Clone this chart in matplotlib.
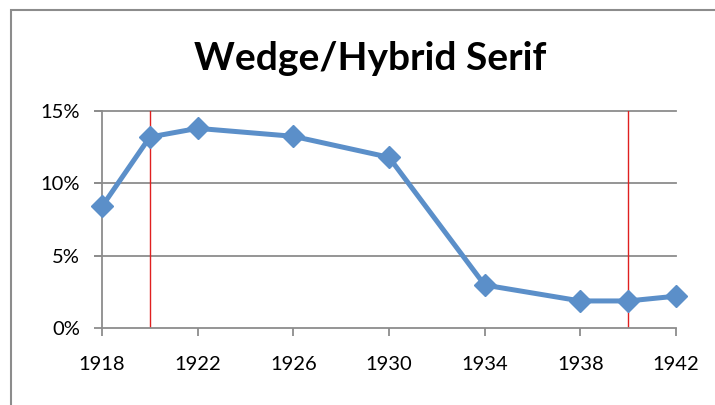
import matplotlib.pyplot as plt
from matplotlib.patches import Rectangle
from matplotlib.ticker import FuncFormatter

years = [1918, 1920, 1922, 1926, 1930, 1934, 1938, 1940, 1942]
share = [8.4, 13.2, 13.8, 13.25, 11.8, 2.97, 1.87, 1.87, 2.2]
marker_years = [1920, 1940]
tick_years = [1918, 1922, 1926, 1930, 1934, 1938, 1942]

plt.rcParams['font.family'] = ['Lato', 'DejaVu Sans']

fig = plt.figure(figsize=(7.15, 4.05), dpi=100)
# chart area border (Excel style)
fig.patches.append(Rectangle((11 / 715, -0.1), 1.2, 1 - 10 / 405 + 0.1, transform=fig.transFigure,
                             fill=False, edgecolor='#8c8c8c', linewidth=1.5))

ax = fig.add_axes([102 / 715, 1 - 328 / 405, 574 / 715, (328 - 111) / 405])
ax.set_xlim(1918, 1942)
ax.set_ylim(0, 15)

for y in [5, 10, 15]:
    ax.plot([1917.7, 1942], [y, y], color='#8c8c8c', linewidth=1.3, clip_on=False, zorder=1)

for x in marker_years:
    ax.axvline(x, color='#e02020', linewidth=1.0, zorder=2)

ax.plot(years, share, color='#5b8fc9', linewidth=3.6, marker='D', markersize=11,
        markerfacecolor='#5b8fc9', markeredgecolor='#5b8fc9', zorder=3, clip_on=False)

for s in ['top', 'right']:
    ax.spines[s].set_visible(False)
ax.spines['left'].set_color('#8c8c8c')
ax.spines['bottom'].set_color('#8c8c8c')
ax.spines['left'].set_linewidth(1.3)
ax.spines['bottom'].set_linewidth(1.3)

ax.set_xticks(tick_years)
ax.set_yticks([0, 5, 10, 15])
ax.yaxis.set_major_formatter(FuncFormatter(lambda v, p: f'{v:.0f}%'))
ax.tick_params(axis='x', length=6, width=1.3, color='#8c8c8c', labelsize=14.5, pad=14)
ax.tick_params(axis='y', length=6, width=1.3, color='#8c8c8c', labelsize=14.5, pad=10)

fig.text(370 / 715, 1 - 58 / 405, 'Wedge/Hybrid Serif', ha='center', va='center',
         fontsize=28, fontweight='bold')

fig.savefig('out.png', dpi=100)
